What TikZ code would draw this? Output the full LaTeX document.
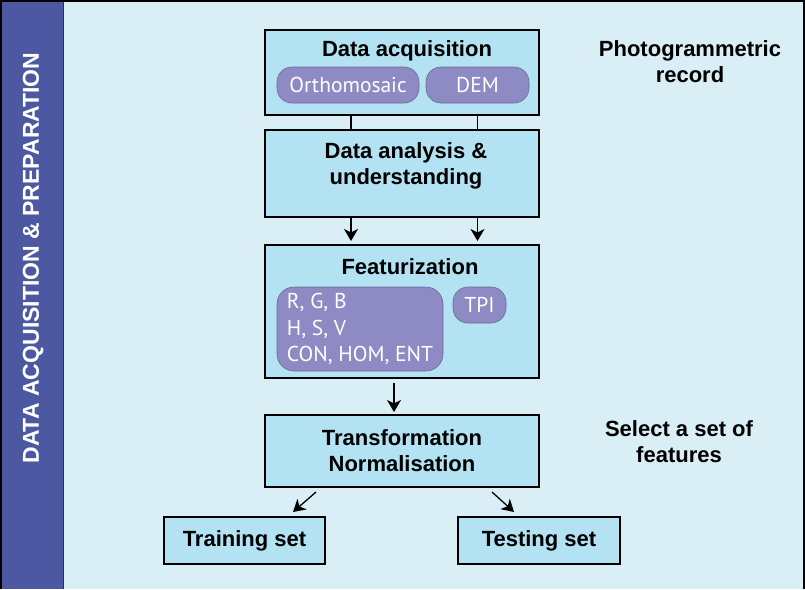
\documentclass[tikz,border=0pt]{standalone}
\usepackage{fontspec}
\setmainfont{Liberation Sans}
\newfontfamily\pillfont{PT Sans}
\usetikzlibrary{arrows.meta, positioning}

\definecolor{bgblue}{HTML}{D9EFF5}
\definecolor{boxblue}{HTML}{B3E2F2}
\definecolor{sidebarblue}{HTML}{4C59A2}
\definecolor{pillpurple}{HTML}{8E8AC3}
\definecolor{pilledge}{HTML}{6C6A9A}

\begin{document}
\begin{tikzpicture}[x=1pt, y=-1pt, node distance=15pt,
    stagebox/.style={draw, line width=1.3pt, fill=boxblue, minimum width=274pt, inner sep=0pt, outer sep=0pt, align=center, font=\bfseries\fontsize{22}{26}\selectfont},
    stagetitle/.style={font=\bfseries\fontsize{22}{26}\selectfont, align=center, inner sep=0pt},
    pill/.style={draw=pilledge, line width=0.6pt, fill=pillpurple, text=white, rounded corners=15pt, minimum height=36pt, inner sep=0pt, outer sep=0pt, font=\pillfont\fontsize{21.5}{26.5}\selectfont},
    flow/.style={-{Stealth[length=12pt, width=14pt, inset=3.5pt]}, line width=1.3pt}]
    \useasboundingbox (0,0) rectangle (805,589);
    % background and side bar
    \fill[bgblue] (0,0) rectangle (805,589);
    \fill[sidebarblue] (2,0) rectangle (63,589);
    \draw[line width=1pt, black!80] (63,0) -- (63,589);
    \draw[line width=2.5pt] (1,589) -- (1,1) -- (804,1) -- (804,589);
    \node[rotate=90, text=white, font=\bfseries\fontsize{23}{27}\selectfont] (side) at (33,258) {DATA ACQUISITION \& PREPARATION};

    % main flow
    \node[stagebox, minimum height=85pt] (acq) at (402,72.5) {};
    \node[stagebox, minimum height=87pt, below=15pt of acq] (ana) {};
    \node[stagebox, minimum height=133pt, below=28pt of ana] (feat) {};
    \node[stagebox, minimum height=72pt, below=37pt of feat] (trans) {Transformation\\Normalisation};
    \node[stagebox, minimum width=161pt, minimum height=47pt, below=30pt of trans.south west, xshift=-20.5pt] (train) {Training set};
    \node[stagebox, minimum width=162pt, minimum height=47pt, below=30pt of trans.south east] (test) {Testing set};

    % box contents
    \node[stagetitle] (acqtitle) at (407,50.5) {Data acquisition};
    \node[pill, minimum width=142pt] (ortho) at (348,85) {Orthomosaic};
    \node[pill, minimum width=103pt] (dem) at (477.5,85) {DEM};
    \node[stagetitle] (anatitle) at (406,165.5) {Data analysis \&\\understanding};
    \node[stagetitle] (feattitle) at (410,266.5) {Featurization};
    \node[pill, minimum width=166pt, minimum height=84pt, align=left, rounded corners=17pt] (colour) at (360,329) {R, G, B\\H, S, V\\CON, HOM, ENT};
    \node[pill, minimum width=53pt] (tpi) at (479.5,305) {TPI};

    % side notes
    \node[stagetitle] (photo) at (690,61.5) {Photogrammetric\\record};
    \node[stagetitle] (select) at (679,442) {Select a set of\\features};

    \draw[line width=1.3pt] ([xshift=3pt]acq.south -| ortho) -- ([xshift=3pt]ana.north -| ortho);
    \draw[line width=1.3pt] (acq.south -| dem) -- (ana.north -| dem);
    \draw[flow, shorten >=4pt] ([xshift=3pt]ana.south -| ortho) -- ([xshift=3pt]feat.north -| ortho);
    \draw[flow, shorten >=4pt] (ana.south -| dem) -- (feat.north -| dem);
    \draw[flow, shorten <=5pt, shorten >=3pt] ([xshift=-8pt]feat.south) -- ([xshift=-8pt]trans.north);
    \draw[flow] ([xshift=51pt, yshift=-5pt]trans.south west) -- ([xshift=-32pt, yshift=5pt]train.north east);
    \draw[flow] ([xshift=-47pt, yshift=-5pt]trans.south east) -- ([xshift=56pt, yshift=5pt]test.north west);
\end{tikzpicture}
\end{document}
